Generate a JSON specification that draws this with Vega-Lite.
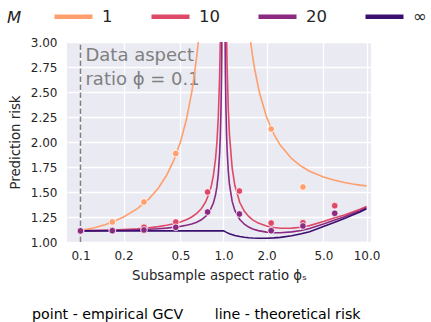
{
  "$schema": "https://vega.github.io/schema/vega-lite/v6.json",
  "width": 304,
  "height": 200,
  "autosize": {"type": "none"},
  "padding": {"left": 67, "top": 42, "right": 60, "bottom": 80},
  "background": "white",
  "title": {"text": "point - empirical GCV\u00a0\u00a0\u00a0\u00a0\u00a0\u00a0\u00a0line - theoretical risk", "orient": "bottom", "anchor": "start", "frame": "group", "dx": -35, "offset": 27, "fontSize": 14.2, "fontWeight": "normal", "color": "black", "font": "DejaVu Sans"},
  "config": {
    "view": {"fill": "#EAEAF2", "stroke": null},
    "font": "DejaVu Sans",
    "axis": {"domain": false, "ticks": false, "gridColor": "white", "gridWidth": 1.3, "labelColor": "#262626", "titleColor": "#262626", "labelFont": "DejaVu Sans", "titleFont": "DejaVu Sans", "labelFontSize": 12, "titleFontSize": 13.3, "titleFontWeight": "normal", "labelFlush": false, "labelOverlap": false, "labelBound": false}
  },
  "datasets": {
    "curves": [
      {"M":"1","psi":0.1,"risk":1.111},{"M":"1","psi":0.12,"risk":1.136},{"M":"1","psi":0.15,"risk":1.176},{"M":"1","psi":0.18,"risk":1.22},{"M":"1","psi":0.2,"risk":1.25},{"M":"1","psi":0.25,"risk":1.333},{"M":"1","psi":0.3,"risk":1.429},{"M":"1","psi":0.35,"risk":1.538},{"M":"1","psi":0.4,"risk":1.667},{"M":"1","psi":0.45,"risk":1.818},{"M":"1","psi":0.5,"risk":2.0},{"M":"1","psi":0.55,"risk":2.222},{"M":"1","psi":0.6,"risk":2.5},{"M":"1","psi":0.62,"risk":2.632},{"M":"1","psi":0.65,"risk":2.857},{"M":"1","psi":0.67,"risk":3.03},{"M":"1","psi":0.7,"risk":3.333},{"M":"1","psi":0.75,"risk":4.0},{"M":"1","psi":0.8,"risk":5.0},{"M":"1","psi":0.9,"risk":10},{"M":"1","psi":0.99,"risk":100},{"M":"1","psi":1.01,"risk":101},{"M":"1","psi":1.1,"risk":11.05},{"M":"1","psi":1.2,"risk":6.08},{"M":"1","psi":1.3,"risk":4.45},{"M":"1","psi":1.4,"risk":3.64},{"M":"1","psi":1.5,"risk":3.17},{"M":"1","psi":1.55,"risk":2.996},{"M":"1","psi":1.6,"risk":2.85},{"M":"1","psi":1.65,"risk":2.735},{"M":"1","psi":1.75,"risk":2.55},{"M":"1","psi":1.8,"risk":2.472},{"M":"1","psi":2,"risk":2.25},{"M":"1","psi":2.25,"risk":2.078},{"M":"1","psi":2.5,"risk":1.967},{"M":"1","psi":3,"risk":1.833},{"M":"1","psi":3.5,"risk":1.757},{"M":"1","psi":4,"risk":1.708},{"M":"1","psi":5,"risk":1.65},{"M":"1","psi":6,"risk":1.617},{"M":"1","psi":7,"risk":1.595},{"M":"1","psi":8,"risk":1.58},{"M":"1","psi":9,"risk":1.569},{"M":"1","psi":10,"risk":1.561},
      {"M":"10","psi":0.1,"risk":1.111},{"M":"10","psi":0.15,"risk":1.118},{"M":"10","psi":0.2,"risk":1.125},{"M":"10","psi":0.25,"risk":1.133},{"M":"10","psi":0.3,"risk":1.143},{"M":"10","psi":0.35,"risk":1.154},{"M":"10","psi":0.4,"risk":1.167},{"M":"10","psi":0.45,"risk":1.182},{"M":"10","psi":0.5,"risk":1.2},{"M":"10","psi":0.55,"risk":1.222},{"M":"10","psi":0.6,"risk":1.25},{"M":"10","psi":0.65,"risk":1.286},{"M":"10","psi":0.7,"risk":1.333},{"M":"10","psi":0.75,"risk":1.4},{"M":"10","psi":0.8,"risk":1.5},{"M":"10","psi":0.825,"risk":1.571},{"M":"10","psi":0.85,"risk":1.667},{"M":"10","psi":0.88,"risk":1.833},{"M":"10","psi":0.9,"risk":2.0},{"M":"10","psi":0.92,"risk":2.25},{"M":"10","psi":0.94,"risk":2.667},{"M":"10","psi":0.95,"risk":3.0},{"M":"10","psi":0.96,"risk":3.5},{"M":"10","psi":0.97,"risk":4.333},{"M":"10","psi":0.98,"risk":6.0},{"M":"10","psi":0.99,"risk":11.0},{"M":"10","psi":1.01,"risk":11.098},{"M":"10","psi":1.02,"risk":6.096},{"M":"10","psi":1.03,"risk":4.427},{"M":"10","psi":1.04,"risk":3.591},{"M":"10","psi":1.05,"risk":3.088},{"M":"10","psi":1.06,"risk":2.754},{"M":"10","psi":1.08,"risk":2.333},{"M":"10","psi":1.1,"risk":2.08},{"M":"10","psi":1.15,"risk":1.739},{"M":"10","psi":1.2,"risk":1.567},{"M":"10","psi":1.3,"risk":1.395},{"M":"10","psi":1.4,"risk":1.307},{"M":"10","psi":1.5,"risk":1.256},{"M":"10","psi":1.6,"risk":1.221},{"M":"10","psi":1.75,"risk":1.189},{"M":"10","psi":2,"risk":1.159},{"M":"10","psi":2.25,"risk":1.145},{"M":"10","psi":2.5,"risk":1.138},{"M":"10","psi":3,"risk":1.139},{"M":"10","psi":3.5,"risk":1.148},{"M":"10","psi":4,"risk":1.164},{"M":"10","psi":5,"risk":1.205},{"M":"10","psi":6,"risk":1.242},{"M":"10","psi":7,"risk":1.271},{"M":"10","psi":8,"risk":1.301},{"M":"10","psi":9,"risk":1.327},{"M":"10","psi":10,"risk":1.356},
      {"M":"20","psi":0.1,"risk":1.111},{"M":"20","psi":0.2,"risk":1.118},{"M":"20","psi":0.3,"risk":1.127},{"M":"20","psi":0.35,"risk":1.133},{"M":"20","psi":0.4,"risk":1.139},{"M":"20","psi":0.45,"risk":1.147},{"M":"20","psi":0.5,"risk":1.156},{"M":"20","psi":0.55,"risk":1.167},{"M":"20","psi":0.6,"risk":1.181},{"M":"20","psi":0.65,"risk":1.198},{"M":"20","psi":0.7,"risk":1.222},{"M":"20","psi":0.75,"risk":1.256},{"M":"20","psi":0.8,"risk":1.306},{"M":"20","psi":0.85,"risk":1.389},{"M":"20","psi":0.88,"risk":1.472},{"M":"20","psi":0.9,"risk":1.556},{"M":"20","psi":0.92,"risk":1.681},{"M":"20","psi":0.94,"risk":1.889},{"M":"20","psi":0.95,"risk":2.056},{"M":"20","psi":0.96,"risk":2.306},{"M":"20","psi":0.97,"risk":2.722},{"M":"20","psi":0.975,"risk":3.055},{"M":"20","psi":0.98,"risk":3.556},{"M":"20","psi":0.99,"risk":6.056},{"M":"20","psi":1.01,"risk":6.103},{"M":"20","psi":1.02,"risk":3.6},{"M":"20","psi":1.03,"risk":2.764},{"M":"20","psi":1.04,"risk":2.345},{"M":"20","psi":1.05,"risk":2.092},{"M":"20","psi":1.06,"risk":1.923},{"M":"20","psi":1.08,"risk":1.711},{"M":"20","psi":1.1,"risk":1.581},{"M":"20","psi":1.15,"risk":1.406},{"M":"20","psi":1.2,"risk":1.316},{"M":"20","psi":1.3,"risk":1.225},{"M":"20","psi":1.4,"risk":1.178},{"M":"20","psi":1.5,"risk":1.149},{"M":"20","psi":1.6,"risk":1.131},{"M":"20","psi":1.75,"risk":1.114},{"M":"20","psi":2,"risk":1.099},{"M":"20","psi":2.25,"risk":1.093},{"M":"20","psi":2.5,"risk":1.092},{"M":"20","psi":3,"risk":1.101},{"M":"20","psi":3.5,"risk":1.115},{"M":"20","psi":4,"risk":1.134},{"M":"20","psi":5,"risk":1.18},{"M":"20","psi":6,"risk":1.221},{"M":"20","psi":7,"risk":1.253},{"M":"20","psi":8,"risk":1.286},{"M":"20","psi":9,"risk":1.313},{"M":"20","psi":10,"risk":1.344},
      {"M":"∞","psi":0.1,"risk":1.111},{"M":"∞","psi":0.5,"risk":1.111},{"M":"∞","psi":1.0,"risk":1.111},{"M":"∞","psi":1.05,"risk":1.096},{"M":"∞","psi":1.1,"risk":1.083},{"M":"∞","psi":1.2,"risk":1.065},{"M":"∞","psi":1.3,"risk":1.055},{"M":"∞","psi":1.4,"risk":1.048},{"M":"∞","psi":1.5,"risk":1.043},{"M":"∞","psi":1.6,"risk":1.04},{"M":"∞","psi":1.75,"risk":1.038},{"M":"∞","psi":2,"risk":1.038},{"M":"∞","psi":2.25,"risk":1.041},{"M":"∞","psi":2.5,"risk":1.046},{"M":"∞","psi":3,"risk":1.062},{"M":"∞","psi":3.5,"risk":1.082},{"M":"∞","psi":4,"risk":1.103},{"M":"∞","psi":5,"risk":1.155},{"M":"∞","psi":6,"risk":1.198},{"M":"∞","psi":7,"risk":1.235},{"M":"∞","psi":8,"risk":1.27},{"M":"∞","psi":9,"risk":1.30},{"M":"∞","psi":10,"risk":1.333}
    ],
    "points": [
      {"M":"1","psi":0.1,"risk":1.111},{"M":"1","psi":0.167,"risk":1.2},{"M":"1","psi":0.278,"risk":1.4},{"M":"1","psi":0.464,"risk":1.885},{"M":"1","psi":2.154,"risk":2.13},{"M":"1","psi":3.594,"risk":1.55},
      {"M":"10","psi":0.1,"risk":1.111},{"M":"10","psi":0.167,"risk":1.12},{"M":"10","psi":0.278,"risk":1.148},{"M":"10","psi":0.464,"risk":1.2},{"M":"10","psi":0.774,"risk":1.5},{"M":"10","psi":1.292,"risk":1.51},{"M":"10","psi":2.154,"risk":1.19},{"M":"10","psi":3.594,"risk":1.193},{"M":"10","psi":5.995,"risk":1.363},
      {"M":"20","psi":0.1,"risk":1.111},{"M":"20","psi":0.167,"risk":1.113},{"M":"20","psi":0.278,"risk":1.12},{"M":"20","psi":0.464,"risk":1.147},{"M":"20","psi":0.774,"risk":1.3},{"M":"20","psi":1.292,"risk":1.28},{"M":"20","psi":2.154,"risk":1.113},{"M":"20","psi":3.594,"risk":1.16},{"M":"20","psi":5.995,"risk":1.287}
    ],
    "vline": [{"psi":0.1,"risk":1.0},{"psi":0.1,"risk":3.0}],
    "note": [{"psi":0.1,"risk":2.95,"label":"Data aspect\nratio ϕ = 0.1"}]
  },
  "encoding": {
    "x": {"field": "psi", "type": "quantitative", "scale": {"type": "log", "domain": [0.0805, 10.75], "nice": false}, "axis": {"values": [0.1,0.2,0.5,1,2,5,10], "format": ".1f", "title": "Subsample aspect ratio ϕₛ", "labelPadding": 8, "titlePadding": 7}},
    "y": {"field": "risk", "type": "quantitative", "scale": {"domain": [1,3], "nice": false, "zero": false}, "axis": {"values": [1,1.25,1.5,1.75,2,2.25,2.5,2.75,3], "format": ".2f", "title": "Prediction risk", "labelPadding": 10, "titlePadding": 8}}
  },
  "layer": [
    {"data": {"name": "vline"}, "mark": {"type": "line", "color": "#808080", "strokeWidth": 1.5, "strokeDash": [5.5, 2.5]}, "encoding": {}},
    {"data": {"name": "note"}, "mark": {"type": "text", "align": "left", "baseline": "top", "dx": 5, "fontSize": 18, "color": "#808080", "lineBreak": "\n", "lineHeight": 24}, "encoding": {"text": {"field": "label"}}},
    {"data": {"name": "curves"}, "mark": {"type": "line", "clip": true, "strokeWidth": 1.6},
     "encoding": {"color": {"field": "M", "type": "nominal", "sort": ["1","10","20","∞"], "scale": {"domain": ["1","10","20","∞"], "range": ["#fe9f6d","#de4968","#8c2981","#3b0f70"]},
       "legend": {"orient": "none", "legendX": -60, "legendY": -47, "direction": "horizontal", "title": "M", "titleOrient": "left", "titleAnchor": "middle", "titleBaseline": "top", "titleFontStyle": "italic", "titleFontWeight": "normal", "titleFontSize": 16.5, "titleColor": "#262626", "titlePadding": 30, "labelFontSize": 16.5, "labelColor": "#262626", "labelOffset": 7, "symbolType": "stroke", "symbolSize": 1444, "symbolStrokeWidth": 4.5, "columnPadding": 29, "padding": 0}}}},
    {"data": {"name": "points"}, "mark": {"type": "point", "filled": true, "clip": true, "size": 45, "opacity": 1, "stroke": "white", "strokeWidth": 0.8},
     "encoding": {"color": {"field": "M", "type": "nominal", "scale": {"domain": ["1","10","20","∞"], "range": ["#fe9f6d","#de4968","#8c2981","#3b0f70"]}, "legend": null}}}
  ]
}
